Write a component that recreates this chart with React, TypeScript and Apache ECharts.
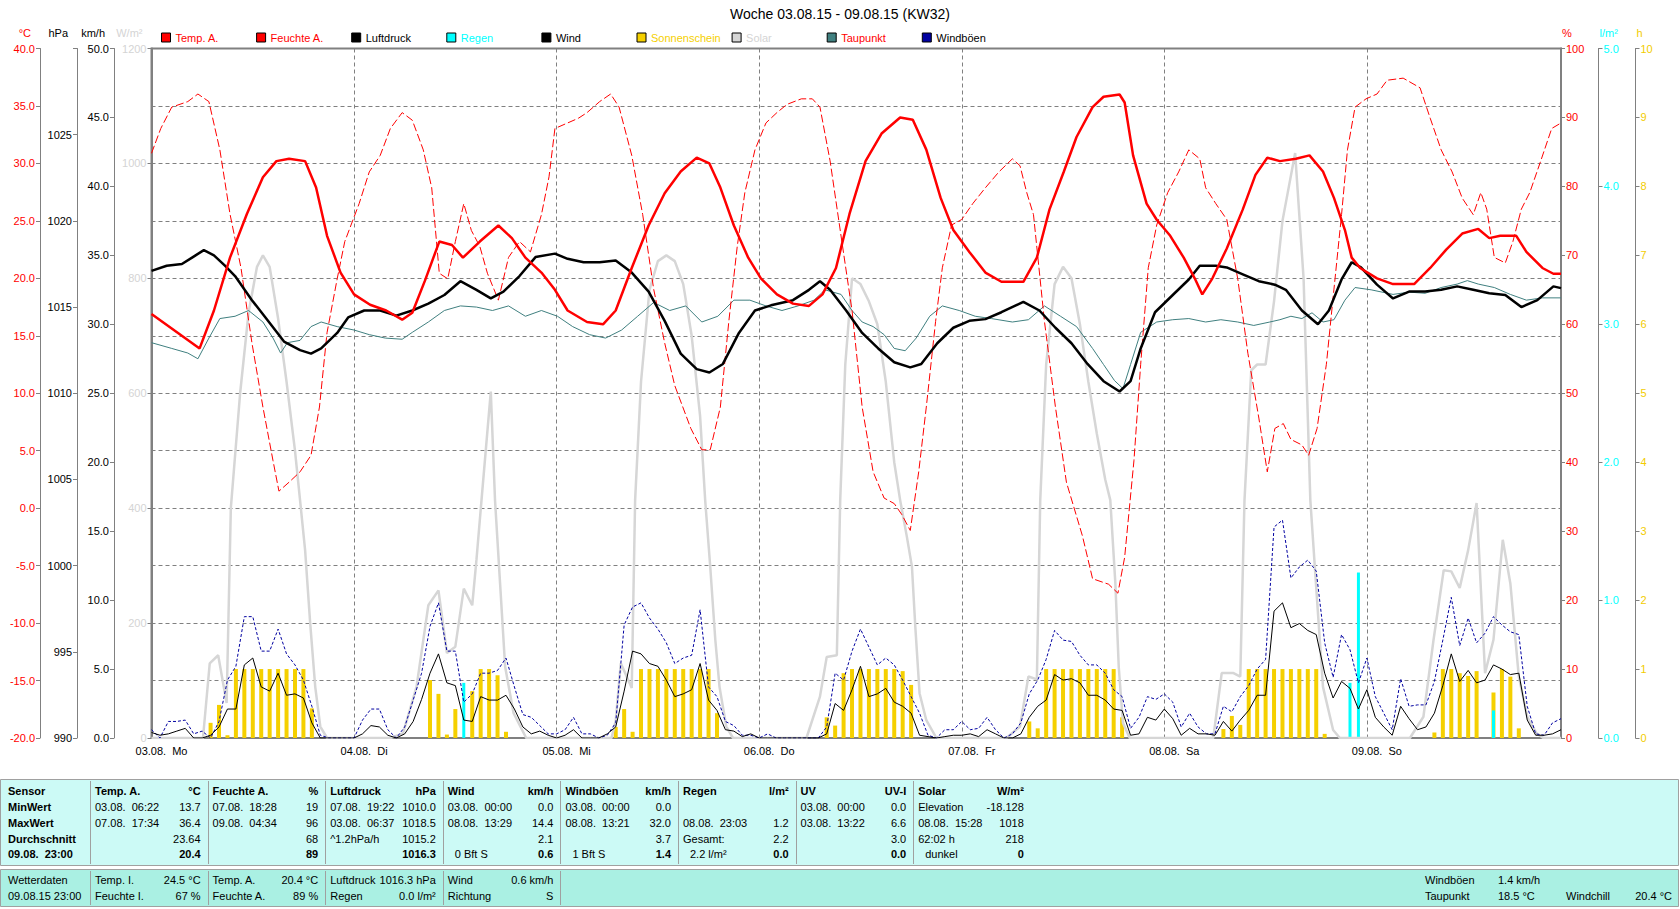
import React, { useEffect, useRef } from 'react';
import * as echarts from 'echarts';

const FONT = '"Liberation Sans", Arial, Helvetica, sans-serif';

// ---------- axis / category texts ----------
const dayLabels = ['03.08.  Mo', '04.08.  Di', '05.08.  Mi', '06.08.  Do', '07.08.  Fr', '08.08.  Sa', '09.08.  So'];
const chartTitle = 'Woche 03.08.15 - 09.08.15 (KW32)';

// ---------- series data (x = hours since 03.08. 00:00) ----------
const tempA = [
  [0, 16.9], [5.7, 13.9], [7.4, 17.2], [9.3, 21.8], [11.3, 25.6], [13.2, 28.8], [14.8, 30.2], [16.3, 30.4], [18.2, 30.2], [19.5, 27.9], [20.8, 23.7], [22.4, 20.5], [24, 18.6],
  [25.9, 17.7], [27.8, 17.2], [29.7, 16.4], [30.9, 17], [32.4, 19.8], [34.1, 23.2], [35.6, 22.9], [36.9, 21.8], [38.9, 23.2], [41.1, 24.6], [42.7, 23.5], [44.3, 21.8], [46.2, 20.5], [47.8, 19.0],
  [49.3, 17.2], [51.6, 16.2], [53.5, 16.0], [55, 17.2], [56.9, 20.9], [58.9, 24.6], [60.8, 27.4], [62.7, 29.3], [64.6, 30.5], [66.1, 30.0], [67.4, 27.9], [69, 24.6], [70.7, 21.8], [72.2, 20], [74.1, 18.6],
  [76, 17.8], [77.9, 17.6], [79.5, 18.6], [81.1, 20.9], [82.7, 25.6], [84.6, 30.2], [86.5, 32.6], [88.7, 34.0], [90.2, 33.8], [91.8, 31.2], [93.5, 27], [95, 24.2], [96.9, 22.3], [98.8, 20.5], [100.7, 19.7], [103.3, 19.7],
  [104.9, 21.8], [106.4, 26], [108.1, 29.3], [109.6, 32.3], [111.5, 34.9], [112.8, 35.8], [114.7, 36.0], [115.3, 35.3], [116.3, 30.7], [117.9, 26.5], [119.1, 25.1], [120.7, 23.7], [122.3, 21.8], [123.6, 20], [124.5, 18.6],
  [125.7, 20], [127.4, 22.6], [129.3, 26], [130.8, 29], [132.2, 30.5], [133.7, 30.2], [135.6, 30.4], [137.2, 30.7], [138.8, 29.3], [140.1, 27], [141.4, 24.2], [142.2, 21.8], [143.2, 20.9], [145.2, 20], [147.1, 19.5], [149.6, 19.5],
  [151.5, 20.9], [153.4, 22.5], [155.3, 23.9], [157.2, 24.3], [158.5, 23.5], [159.8, 23.7], [161.7, 23.7], [162.9, 22.3], [164.8, 20.9], [166.1, 20.4], [167, 20.4],
];

const feuchteA = [
  [0, 84.8], [1.1, 88.4], [2.4, 91.5], [4.3, 92.3], [5.5, 93.4], [6.8, 92.3], [8.1, 85.3], [9.3, 76], [10.6, 68.2], [11.9, 57.3], [13.2, 48], [14.4, 40.2], [15.1, 35.8], [16.3, 37.1], [17.6, 38.6], [18.9, 41], [19.9, 48], [20.8, 58.8], [22.0, 66.6], [22.9, 72],
  [24.6, 77.5], [25.8, 82.1], [27.1, 84.5], [28.3, 88.4], [29.7, 90.7], [30.9, 89.6], [32.2, 85.3], [33.2, 79.8], [34.1, 67.4], [35.1, 66.6], [36.0, 72], [37.0, 77.5], [37.9, 73.6], [38.9, 71.3], [39.8, 67.4], [41.1, 63.5], [42.3, 69.7], [43.6, 72], [44.9, 70.5], [46.2, 75.9], [47.1, 81.4], [47.8, 88.4],
  [49.3, 89.2], [50.6, 89.9], [51.6, 90.7], [53.1, 92.3], [54.4, 93.4], [55.4, 91.5], [56.9, 84.5], [58.2, 75.9], [59.5, 65.1], [60.8, 57.3], [62.0, 51.1], [63.9, 44.9], [65.2, 41.8], [66.2, 41.8], [67.4, 48], [68.4, 60.4], [69.4, 71.3], [70.3, 79.1], [71.5, 85.3], [72.8, 89.2], [74.1, 90.7],
  [75.3, 91.9], [77.0, 92.7], [78.3, 92.7], [79.2, 91.5], [80.4, 83.7], [81.7, 72.8], [83.0, 62], [84.2, 48], [85.5, 38.6], [86.8, 34.8], [88.0, 34], [88.9, 32.4], [89.9, 30.1], [90.9, 38.6], [91.8, 48], [92.9, 60.4], [93.7, 68.2], [94.8, 74.4], [96.0, 75.2], [97.3, 77.5], [98.8, 79.8], [100.4, 82.1], [102.0, 84], [102.9, 83], [103.7, 79.1],
  [104.5, 75.9], [105.8, 60.4], [107.1, 48], [108.4, 37.1], [110.3, 29.3], [111.5, 23.1], [113.4, 22.3], [114.5, 21], [115.3, 26.2], [116.4, 40.2], [117.2, 54.2], [118.1, 68.2], [119.1, 74.4], [120.4, 79.1], [121.7, 82.1], [122.9, 85.3], [124.2, 84], [124.9, 79.8],
  [126.1, 77.5], [127.4, 75.2], [128.7, 66.6], [129.9, 55.8], [131.2, 46.4], [132.2, 38.6], [133.1, 44.9], [134.1, 45.6], [135.0, 43.3], [136.3, 42.5], [137.1, 41], [138.1, 44.9], [139.2, 54.2], [140.1, 65.1], [141.0, 75.9], [141.7, 85.3], [142.6, 91.5], [143.9, 92.7], [145.2, 93.4], [146.4, 95.4], [148.3, 95.7], [150.3, 94.3],
  [151.5, 89.9], [152.8, 85.3], [154.1, 82.1], [155.3, 78.3], [156.6, 75.9], [157.5, 79.1], [158.2, 76.7], [159.1, 69.7], [160.4, 68.9], [161.3, 72], [162.3, 76.7], [163.3, 79.1], [164.6, 83.7], [165.9, 88.4], [167, 89.2],
];

const luftdruck = [
  [0, 1017.1], [1.8, 1017.4], [3.6, 1017.5], [4.9, 1017.9], [6.2, 1018.3], [7.4, 1018.0], [8.7, 1017.4], [9.9, 1016.8], [11.9, 1015.4], [13.8, 1014.2], [15.7, 1013.0], [17.6, 1012.5], [18.9, 1012.3], [20.1, 1012.6], [22.0, 1013.5], [23.3, 1014.4],
  [25.2, 1014.8], [27.1, 1014.8], [29.0, 1014.5], [30.9, 1014.8], [32.8, 1015.2], [34.7, 1015.7], [36.6, 1016.5], [38.5, 1016.0], [40.2, 1015.5], [41.7, 1015.9], [43.6, 1016.8], [45.5, 1017.9], [47.8, 1018.1],
  [49.3, 1017.8], [51.2, 1017.6], [53.1, 1017.6], [55.0, 1017.7], [56.9, 1017.0], [58.9, 1015.9], [60.8, 1014.2], [62.7, 1012.3], [64.6, 1011.4], [66.1, 1011.2], [67.7, 1011.7], [69.6, 1013.5], [71.5, 1014.8], [73.4, 1015.1],
  [76.0, 1015.4], [77.9, 1016.0], [79.2, 1016.5], [80.4, 1016.0], [82.3, 1014.8], [84.2, 1013.5], [86.1, 1012.6], [88.0, 1011.8], [89.9, 1011.5], [91.2, 1011.7], [93.1, 1012.9], [95.0, 1013.8], [96.9, 1014.2], [98.8, 1014.3],
  [100.7, 1014.7], [103.3, 1015.3], [105.2, 1014.8], [107.1, 1013.8], [109.0, 1012.9], [110.9, 1011.7], [112.8, 1010.7], [114.7, 1010.1], [116.0, 1010.7], [117.2, 1012.6], [118.9, 1014.7], [121.0, 1015.7], [122.9, 1016.6], [124.2, 1017.4],
  [126.1, 1017.4], [127.4, 1017.3], [129.3, 1016.9], [131.2, 1016.5], [133.1, 1016.3], [134.4, 1016.0], [136.3, 1014.8], [138.2, 1014.0], [139.5, 1014.8], [141.0, 1016.6], [142.2, 1017.6], [143.3, 1017.3], [145.2, 1016.3], [147.1, 1015.5], [149.0, 1015.9],
  [150.9, 1015.9], [152.8, 1016.0], [154.7, 1016.2], [156.6, 1016.0], [158.5, 1015.8], [160.4, 1015.7], [162.3, 1015.0], [164.2, 1015.4], [166.1, 1016.2], [167, 1016.1],
];

const taupunkt = [
  [0, 14.4], [2.4, 13.9], [4.3, 13.5], [5.5, 13.0], [6.8, 14.8], [8.1, 16.5], [9.9, 16.7], [11.5, 17.2], [13.2, 16.2], [14.4, 14.8], [15.3, 13.5], [16.1, 14.4], [17.6, 14.6], [18.9, 15.8], [20.1, 16.2], [22.0, 15.8], [24.0, 15.5],
  [25.8, 15.1], [27.7, 14.8], [29.7, 14.7], [30.9, 15.3], [32.8, 16.2], [34.7, 17.2], [36.6, 17.6], [38.5, 17.5], [40.4, 17.2], [42.3, 17.6], [44.3, 16.7], [46.2, 17.2], [48.1, 16.7],
  [49.9, 15.8], [51.9, 15.1], [53.8, 14.8], [55.7, 15.5], [57.6, 16.7], [59.5, 17.9], [61.4, 17.2], [63.3, 17.6], [65.2, 16.2], [67.1, 16.7], [69.0, 18.1], [70.9, 18.1], [72.8, 17.6], [74.7, 17.2],
  [76.6, 17.6], [78.5, 18.1], [79.8, 19.0], [81.7, 18.6], [83.0, 17.2], [84.2, 16.2], [85.5, 15.8], [86.8, 15.1], [88.0, 13.9], [89.3, 13.7], [90.6, 14.8], [92.2, 16.7], [93.7, 17.6], [95.7, 17.2], [97.6, 16.7], [99.5, 16.5],
  [102.0, 16.2], [103.9, 16.4], [105.8, 17.6], [107.7, 16.7], [109.6, 15.8], [111.5, 13.9], [112.8, 12.5], [114.1, 11.1], [115.1, 10.4], [116.0, 12.5], [117.2, 15.3], [119.1, 16.2], [121.0, 16.4], [122.9, 16.5], [124.9, 16.2],
  [126.7, 16.4], [128.7, 16.2], [130.6, 15.9], [132.5, 16.2], [133.7, 16.4], [135.0, 16.7], [136.3, 16.5], [137.5, 17.0], [138.8, 16.2], [140.1, 16.4], [141.4, 18.1], [142.6, 19.2], [144.5, 19.0], [147.1, 18.6], [149.0, 18.8],
  [150.9, 18.7], [152.8, 19.2], [154.7, 19.5], [155.9, 19.8], [157.2, 19.5], [159.1, 19.2], [161.0, 18.6], [162.9, 18.1], [164.8, 18.3], [167, 18.3],
];

const solarW = [
  [0, 0], [6.1, 0], [6.9, 130], [7.9, 144], [8.9, 61], [9.4, 400], [10.5, 600], [11.5, 740], [12.5, 820], [13.2, 840], [14, 820], [15, 730], [16, 620], [17, 500], [17.6, 414], [18.2, 327], [18.8, 200], [19.4, 89], [20, 20], [20.8, 0],
  [28.3, 0], [29.8, 8], [31.4, 89], [32.8, 231], [34, 257], [35, 148], [36, 159], [37, 260], [38, 231], [38.5, 310], [39.1, 414], [40.2, 603], [40.7, 414], [41.3, 269], [41.9, 124], [42.9, 43], [44.4, 0],
  [54.5, 0], [55, 30], [55.6, 130], [56.9, 87], [57.3, 414], [58, 620], [59, 780], [60, 830], [61, 840], [62, 830], [63, 790], [64, 700], [65, 560], [65.6, 414], [66.2, 298], [66.8, 171], [67.3, 89], [68.1, 20], [68.9, 0],
  [77.6, 0], [79.2, 72], [80, 141], [81.2, 144], [81.6, 414], [82.2, 650], [83, 800], [84, 790], [85, 760], [86, 720], [87, 620], [88, 480], [88.7, 414], [89.5, 350], [90.1, 298], [90.5, 193], [91, 78], [91.8, 31], [93, 0],
  [101.3, 0], [102.9, 20], [103.9, 107], [104.9, 102], [105.3, 414], [106, 650], [107, 790], [108, 820], [109, 800], [110, 720], [111, 620], [112, 530], [113, 450], [113.6, 414], [114.2, 269], [114.6, 124], [115.1, 26], [115.9, 0],
  [125.8, 0], [126.8, 113], [128.2, 113], [129, 107], [129.5, 414], [130.3, 640], [131, 650], [132, 650], [133, 760], [134, 900], [135.5, 1018], [136.5, 800], [137.3, 414], [138.1, 240], [138.8, 89], [140, 14], [140.8, 0],
  [149.1, 0], [150.7, 37], [151.9, 171], [153.1, 292], [154, 290], [155, 261], [156, 327], [157, 409], [158, 113], [159, 171], [160.1, 345], [161, 269], [162, 107], [163, 37], [164.1, 8], [164.9, 0], [167, 0],
];

// hourly values, index = hour since 03.08. 00:00
const windKmh = [
  0.4, 0.2, 0.3, 0.5, 0.7, 0, 0, 0.2, 0.8, 2.1, 2.1, 5.3, 5.8, 3.7, 3.4, 4.7, 3.1, 3.2, 2.9, 1.1, 0, 0, 0, 0,
  0, 0.3, 0.9, 0.8, 0.2, 0, 0.3, 1.2, 2.8, 4.7, 6.1, 4.0, 3.8, 1.3, 1.2, 3.0, 2.75, 2.75, 3.1, 2.1, 0.8, 0.3, 0.5, 0.2,
  0, 0.2, 0.6, 0, 0, 0, 0.3, 0.8, 3.4, 6.3, 6.1, 5.4, 5.2, 4.2, 3.0, 3.2, 3.5, 5.4, 2.75, 2.0, 0.6, 0.5, 0.1, 0.3,
  0, 0, 0, 0, 0, 0, 0, 0, 0.3, 2.5, 2.0, 3.5, 5.2, 3.0, 3.2, 3.6, 2.6, 2.3, 1.8, 0.2, 0.1, 0, 0.1, 0.2,
  0.2, 0.3, 0.1, 0.6, 0.3, 0, 0, 0.3, 1.5, 2.3, 2.75, 4.6, 4.2, 4.3, 4.0, 3.1, 3.1, 2.75, 2.1, 2.0, 0.2, 0.3, 1.5, 1.3,
  2.1, 1.4, 0.2, 0.7, 0.3, 0.3, 0.2, 1.2, 0.5, 1.3, 2.0, 3.1, 3.1, 9.2, 9.8, 8.0, 8.3, 7.8, 7.5, 4.7, 2.9, 4.1, 3.6, 2.1,
  3.5, 1.5, 0.8, 0.2, 2.3, 1.4, 0.6, 0.8, 1.8, 3.8, 6.1, 4.1, 4.9, 4.0, 4.2, 5.3, 5.0, 4.6, 4.7, 1.3, 0.2, 0.2, 0.3, 0.6,
];

const windboeen = [
  0.6, 0, 1.2, 1.2, 1.3, 0.3, 0.5, 0, 1.2, 4.2, 5.2, 8.8, 8.8, 6.3, 6.3, 7.9, 6.1, 5.3, 4.2, 2.3, 0.2, 0, 0, 0,
  0, 1.3, 2.1, 2.1, 0.6, 0, 0.8, 2.75, 4.7, 8.1, 9.8, 6.3, 6.3, 2.6, 3.2, 4.7, 4.7, 4.9, 5.8, 3.7, 1.7, 1.5, 0.9, 0.3,
  0.3, 0.6, 1.5, 0.3, 0.3, 0, 0.2, 1.1, 8.2, 9.5, 9.8, 8.7, 7.9, 6.9, 5.4, 5.8, 6.0, 9.3, 3.7, 3.0, 1.2, 0.9, 0.2, 0.2,
  0, 0.3, 0, 0, 0, 0, 0, 0, 0.8, 4.7, 4.2, 6.3, 7.9, 6.6, 5.3, 5.8, 5.3, 4.2, 3.0, 1.8, 0.2, 0, 0.6, 0.6,
  1.2, 0.6, 0.7, 1.5, 0.6, 0, 0.3, 1.1, 3.2, 4.2, 5.7, 7.8, 7.1, 7.0, 6.0, 5.3, 5.3, 4.7, 3.5, 3.0, 0.7, 1.5, 3.0, 2.8,
  3.2, 2.6, 0.8, 1.8, 0.8, 0.3, 0.3, 2.3, 1.9, 3.0, 3.8, 5.0, 5.7, 15.3, 15.8, 11.6, 12.4, 12.9, 12.1, 6.9, 4.4, 7.5, 6.4, 4.0,
  5.8, 3.0, 1.8, 0.6, 4.3, 2.3, 2.4, 2.4, 4.1, 7.1, 10.2, 6.7, 8.7, 6.9, 7.6, 8.8, 8.2, 7.7, 7.5, 2.3, 0.3, 0.2, 1.1, 1.4,
];

// sunshine per hour [hour, h]
const sonnenschein = [
  [7, 0.22], [8, 0.48], [9, 0.04], [10, 1], [11, 1], [12, 1], [13, 1], [14, 1], [15, 1], [16, 1], [17, 1], [18, 1], [19, 0.43],
  [33, 0.84], [34, 0.64], [35, 0.05], [36, 0.42], [38, 0.68], [39, 1], [40, 1], [41, 0.91], [42, 0.09],
  [55, 0.16], [56, 0.42], [57, 0.09], [58, 1], [59, 1], [60, 1], [61, 1], [62, 1], [63, 1], [64, 1], [65, 1], [66, 1], [67, 0.36],
  [80, 0.3], [81, 0.18], [82, 0.94], [83, 1], [84, 1], [85, 1], [86, 1], [87, 1], [88, 1], [89, 0.97], [90, 0.77],
  [104, 0.24], [105, 0.14], [106, 1], [107, 1], [108, 1], [109, 1], [110, 1], [111, 1], [112, 1], [113, 1], [114, 1], [115, 0.3],
  [127, 0.13], [128, 0.32], [129, 0.19], [130, 1], [131, 1], [132, 1], [133, 1], [134, 1], [135, 1], [136, 1], [137, 1], [138, 1], [139, 0.06],
  [152, 0.08], [153, 1], [154, 1], [155, 0.94], [156, 0.9], [157, 0.97], [159, 0.66], [160, 1], [161, 0.89], [162, 0.14],
];

// rain per hour [hour, l/m²]
const regen = [[37, 0.4], [142, 0.4], [143, 1.2], [159, 0.2]];

// ---------- legend ----------
const legendNames = ['Temp. A.', 'Feuchte A.', 'Luftdruck', 'Regen', 'Wind', 'Sonnenschein', 'Solar', 'Taupunkt', 'Windböen'];
const legendTextColors = ['#ff0000', '#ff0000', '#000000', '#00ffff', '#000000', '#f5d000', '#d4d4d4', '#ff0000', '#000000'];

// ---------- statistics table ----------
const sensorRows = ['Sensor', 'MinWert', 'MaxWert', 'Durchschnitt', '09.08.  23:00'];
const statTitles = ['Temp. A.', 'Feuchte A.', 'Luftdruck', 'Wind', 'Windböen', 'Regen', 'UV', 'Solar'];
const statUnits = ['°C', '%', 'hPa', 'km/h', 'km/h', 'l/m²', 'UV-I', 'W/m²'];
const statLeftTexts = [
  ['03.08.  06:22', '07.08.  17:34', '', ''],
  ['07.08.  18:28', '09.08.  04:34', '', ''],
  ['07.08.  19:22', '03.08.  06:37', '^1.2hPa/h', ''],
  ['03.08.  00:00', '08.08.  13:29', '', '0 Bft S'],
  ['03.08.  00:00', '08.08.  13:21', '', '1 Bft S'],
  ['', '08.08.  23:03', 'Gesamt:', '2.2 l/m²'],
  ['03.08.  00:00', '03.08.  13:22', '', ''],
  ['Elevation', '08.08.  15:28', '62:02 h', 'dunkel'],
];
const statValues = [
  ['13.7', '36.4', '23.64', '20.4'],
  ['19', '96', '68', '89'],
  ['1010.0', '1018.5', '1015.2', '1016.3'],
  ['0.0', '14.4', '2.1', '0.6'],
  ['0.0', '32.0', '3.7', '1.4'],
  ['', '1.2', '2.2', '0.0'],
  ['0.0', '6.6', '3.0', '0.0'],
  ['-18.128', '1018', '218', '0'],
];

const currentLabels = [
  ['Wetterdaten', '09.08.15 23:00'],
  ['Temp. I.', 'Feuchte I.'],
  ['Temp. A.', 'Feuchte A.'],
  ['Luftdruck', 'Regen'],
  ['Wind', 'Richtung'],
];
const currentValues = [
  ['', ''],
  ['24.5 °C', '67 %'],
  ['20.4 °C', '89 %'],
  ['1016.3 hPa', '0.0 l/m²'],
  ['0.6 km/h', 'S'],
];
const extraLabels = ['Windböen', 'Taupunkt', 'Windchill'];
const extraValues = ['1.4 km/h', '18.5 °C', '20.4 °C'];

function txt(text: string, x: number, y: number, opt: { color?: string; bold?: boolean; align?: string } = {}) {
  const align = opt.align || 'left';
  return {
    type: 'text',
    x,
    y,
    silent: true,
    style: {
      text,
      fill: opt.color || '#000',
      font: `${opt.bold ? 'bold ' : ''}11px ${FONT}`,
      align,
      verticalAlign: 'middle',
      textAlign: align,
      textVerticalAlign: 'middle',
    },
  };
}

function buildGraphics() {
  const g: any[] = [];
  const tTop = 779, tBottom = 865, pTop = 869, pBottom = 906;
  const colW = 117.6;
  const firstCol = 90;
  g.push({ type: 'rect', silent: true, shape: { x: 0.5, y: tTop + 0.5, width: 1678, height: tBottom - tTop }, style: { fill: '#ccfaf6', stroke: '#a0a0a0', lineWidth: 1 } });
  g.push({ type: 'rect', silent: true, shape: { x: 0.5, y: pTop + 0.5, width: 1678, height: pBottom - pTop }, style: { fill: '#aaf0e3', stroke: '#a0a0a0', lineWidth: 1 } });
  for (let i = 0; i < statTitles.length; i++) {
    const x = Math.round(firstCol + i * colW) + 0.5;
    g.push({ type: 'line', silent: true, shape: { x1: x, y1: tTop + 2, x2: x, y2: tBottom - 1 }, style: { stroke: '#a0a0a0', lineWidth: 1 } });
  }
  for (let i = 0; i < currentLabels.length; i++) {
    const x = Math.round(firstCol + i * colW) + 0.5;
    g.push({ type: 'line', silent: true, shape: { x1: x, y1: pTop + 2, x2: x, y2: pBottom - 1 }, style: { stroke: '#a0a0a0', lineWidth: 1 } });
  }
  const rowY = [791, 807, 823, 839, 854];
  sensorRows.forEach((s, r) => g.push(txt(s, 8, rowY[r], { bold: true })));
  statTitles.forEach((t, c) => {
    const left = firstCol + c * colW;
    const right = left + colW - 7;
    g.push(txt(t, left + 5, rowY[0], { bold: true }));
    g.push(txt(statUnits[c], right, rowY[0], { bold: true, align: 'right' }));
    for (let r = 0; r < 4; r++) {
      const lt = statLeftTexts[c][r];
      if (lt) g.push(txt(lt, left + (r === 3 ? 12 : 5), rowY[r + 1]));
      const v = statValues[c][r];
      if (v) g.push(txt(v, right, rowY[r + 1], { bold: r === 3, align: 'right' }));
    }
  });
  const pRow = [880, 896];
  currentLabels.forEach((labels, c) => {
    const left = c === 0 ? 8 : firstCol + (c - 1) * colW + 5;
    const right = c === 0 ? 85 : firstCol + c * colW - 7;
    labels.forEach((l, r) => {
      g.push(txt(l, left, pRow[r]));
      const v = currentValues[c][r];
      if (v) g.push(txt(v, right, pRow[r], { align: 'right' }));
    });
  });
  g.push(txt(extraLabels[0], 1425, pRow[0]));
  g.push(txt(extraValues[0], 1498, pRow[0]));
  g.push(txt(extraLabels[1], 1425, pRow[1]));
  g.push(txt(extraValues[1], 1498, pRow[1]));
  g.push(txt(extraLabels[2], 1566, pRow[1]));
  g.push(txt(extraValues[2], 1672, pRow[1], { align: 'right' }));
  return g;
}

const GRAY = '#808080';
const DASH = [4, 3];

function yAxisDef(o: any) {
  const isRight = o.position === 'right';
  return {
    type: 'value',
    position: o.position,
    offset: o.offset,
    min: o.min,
    max: o.max,
    interval: o.interval,
    name: o.name,
    nameLocation: 'end',
    nameGap: 16,
    nameTextStyle: {
      color: o.nameColor,
      fontSize: 11,
      fontFamily: FONT,
      align: isRight ? 'left' : 'right',
      verticalAlign: 'middle',
      padding: isRight ? [0, 0, 0, 1] : [0, 9, 0, 0],
    },
    axisLine: { show: true, onZero: false, lineStyle: { color: GRAY, width: o.lineWidth || 1 } },
    axisTick: { show: true, length: 4, inside: false, lineStyle: { color: GRAY } },
    axisLabel: { color: o.labelColor, fontSize: 11, fontFamily: FONT, margin: 5, formatter: o.formatter, showMinLabel: true, showMaxLabel: true, hideOverlap: false },
    splitLine: o.split ? { show: true, lineStyle: { color: GRAY, type: DASH, width: 1 } } : { show: false },
  };
}

export default function App() {
  const ref = useRef<HTMLDivElement>(null);
  useEffect(() => {
    if (!ref.current) return;
    const chart = echarts.init(ref.current, null, { renderer: 'svg' });
    const hourly = (arr: number[]) => arr.map((v, i) => [i, v]);
    const option: any = {
      animation: false,
      backgroundColor: '#ffffff',
      textStyle: { fontFamily: FONT, fontSize: 11 },
      title: {
        text: chartTitle,
        left: 'center',
        top: 7,
        padding: 0,
        textStyle: { fontSize: 14, fontWeight: 'normal', color: '#000', fontFamily: FONT },
      },
      legend: legendNames.map((name, i) => ({
        show: true,
        left: 161 + i * 95.1,
        top: 32,
        padding: 0,
        icon: 'rect',
        itemWidth: 9,
        itemHeight: 9,
        selectedMode: false,
        itemStyle: { borderColor: '#000', borderWidth: 1, borderType: 'solid' },
        textStyle: { color: legendTextColors[i], fontSize: 11, fontFamily: FONT },
        data: [name],
      })),
      grid: {
        left: 151.5,
        right: 119,
        top: 48.5,
        bottom: 171,
        show: true,
        borderColor: GRAY,
        borderWidth: 2,
        backgroundColor: 'transparent',
        containLabel: false,
        outerBoundsMode: 'none',
      },
      xAxis: [
        {
          type: 'value',
          min: 0,
          max: 167,
          interval: 24,
          axisLine: { show: true, onZero: false, lineStyle: { color: GRAY, width: 2 } },
          axisTick: { show: false },
          axisLabel: {
            color: '#000',
            fontSize: 11,
            fontFamily: FONT,
            margin: 7,
            padding: [0, 0, 0, 20],
            showMaxLabel: false,
            formatter: (v: number) => (v % 24 === 0 && v / 24 < dayLabels.length ? dayLabels[v / 24] : ''),
          },
          splitLine: { show: true, lineStyle: { color: GRAY, type: DASH, width: 1 } },
        },
        { type: 'value', min: 0, max: 167, show: false, splitLine: { show: false } },
      ],
      yAxis: [
        yAxisDef({ position: 'left', offset: 111.5, min: -20, max: 40, interval: 5, name: '°C', nameColor: '#ff0000', labelColor: '#ff0000', formatter: (v: number) => v.toFixed(1), split: true }),
        yAxisDef({ position: 'left', offset: 74.5, min: 990, max: 1030, interval: 5, name: 'hPa', nameColor: '#000', labelColor: '#000', formatter: (v: number) => (v >= 1030 ? '' : String(v)) }),
        yAxisDef({ position: 'left', offset: 37.5, min: 0, max: 50, interval: 5, name: 'km/h', nameColor: '#000', labelColor: '#000', formatter: (v: number) => v.toFixed(1) }),
        yAxisDef({ position: 'left', offset: 0, min: 0, max: 1200, interval: 200, name: 'W/m²', nameColor: '#d4d4d4', labelColor: '#d4d4d4', formatter: (v: number) => String(v), lineWidth: 2 }),
        yAxisDef({ position: 'right', offset: 0, min: 0, max: 100, interval: 10, name: '%', nameColor: '#ff0000', labelColor: '#ff0000', formatter: (v: number) => String(v), lineWidth: 2 }),
        yAxisDef({ position: 'right', offset: 37.5, min: 0, max: 5, interval: 1, name: 'l/m²', nameColor: '#00ffff', labelColor: '#00ffff', formatter: (v: number) => v.toFixed(1) }),
        yAxisDef({ position: 'right', offset: 74.5, min: 0, max: 10, interval: 1, name: 'h', nameColor: '#f2cc00', labelColor: '#f2cc00', formatter: (v: number) => String(v) }),
      ],
      series: [
        { name: 'Solar', type: 'line', yAxisIndex: 3, data: solarW, symbol: 'none', color: '#d6d6d6', lineStyle: { color: '#d6d6d6', width: 2.5 } },
        { name: 'Sonnenschein', type: 'bar', yAxisIndex: 6, data: sonnenschein, barWidth: 4, color: '#f5d000', itemStyle: { color: '#f5d000' } },
        { name: 'Regen', type: 'bar', xAxisIndex: 1, yAxisIndex: 5, data: regen, barWidth: 3, color: '#00ffff', itemStyle: { color: '#00ffff' } },
        { name: 'Taupunkt', type: 'line', yAxisIndex: 0, data: taupunkt, symbol: 'none', color: '#408080', lineStyle: { color: '#408080', width: 1 } },
        { name: 'Windböen', type: 'line', yAxisIndex: 2, data: hourly(windboeen), symbol: 'none', color: '#0000a0', lineStyle: { color: '#0000a0', width: 1, type: [3, 2] } },
        { name: 'Wind', type: 'line', yAxisIndex: 2, data: hourly(windKmh), symbol: 'none', color: '#000000', lineStyle: { color: '#000000', width: 1 } },
        { name: 'Feuchte A.', type: 'line', yAxisIndex: 4, data: feuchteA, symbol: 'none', color: '#ff0000', lineStyle: { color: '#ff0000', width: 1, type: [8, 3] } },
        { name: 'Luftdruck', type: 'line', yAxisIndex: 1, data: luftdruck, symbol: 'none', color: '#000000', lineStyle: { color: '#000000', width: 2.5 } },
        { name: 'Temp. A.', type: 'line', yAxisIndex: 0, data: tempA, symbol: 'none', color: '#ff0000', lineStyle: { color: '#ff0000', width: 2.5 } },
      ],
      graphic: buildGraphics(),
    };
    chart.setOption(option);
    return () => chart.dispose();
  }, []);
  return <div ref={ref} style={{ position: 'fixed', left: 0, top: 0, width: 1680, height: 909, background: '#fff' }} />;
}
